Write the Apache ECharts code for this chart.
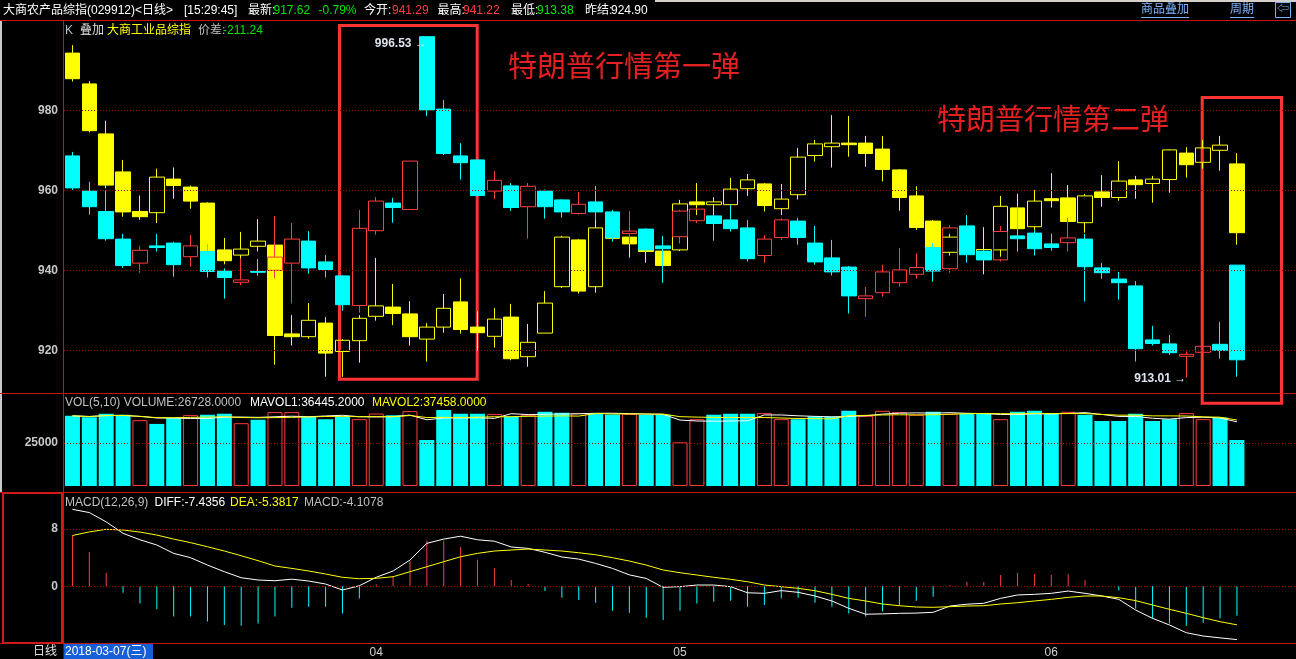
<!DOCTYPE html>
<html>
<head>
<meta charset="utf-8">
<style>
html,body{margin:0;padding:0;background:#000;}
#chart{width:1296px;height:659px;}
</style>
<script src="https://cdn.jsdelivr.net/npm/echarts@6/dist/echarts.min.js"></script>
</head>
<body>
<div id="chart"></div>
<script>
// ---------------- DATA ----------------
const dates = [
 '2018-03-07','2018-03-08','2018-03-09','2018-03-12','2018-03-13','2018-03-14','2018-03-15','2018-03-16','2018-03-19','2018-03-20',
 '2018-03-21','2018-03-22','2018-03-23','2018-03-26','2018-03-27','2018-03-28','2018-03-29','2018-03-30','2018-04-02','2018-04-03',
 '2018-04-04','2018-04-09','2018-04-10','2018-04-11','2018-04-12','2018-04-13','2018-04-16','2018-04-17','2018-04-18','2018-04-19',
 '2018-04-20','2018-04-23','2018-04-24','2018-04-25','2018-04-26','2018-04-27','2018-05-02','2018-05-03','2018-05-04','2018-05-07',
 '2018-05-08','2018-05-09','2018-05-10','2018-05-11','2018-05-14','2018-05-15','2018-05-16','2018-05-17','2018-05-18','2018-05-21',
 '2018-05-22','2018-05-23','2018-05-24','2018-05-25','2018-05-28','2018-05-29','2018-05-30','2018-05-31','2018-06-01','2018-06-04',
 '2018-06-05','2018-06-06','2018-06-07','2018-06-08','2018-06-11','2018-06-12','2018-06-13','2018-06-14','2018-06-15','2018-06-19'
];

// 大商农产品综指 (main) OHLC
const mainOpen = [968.6,959.8,954.7,947.8,941.8,946.1,946.8,943.4,944.7,939.8, 937.0,939.7,940.0,941.8,947.3,942.1,938.6,931.2,949.9,956.8,
 955.2,998.4,980.3,968.6,967.6,959.8,961.1,955.9,959.8,957.6, 954.2,957.1,954.6,949.2,950.3,946.1,948.4,952.4,953.6,952.6,
 950.6,943.7,948.2,952.3,946.8,943.1,940.8,932.9,934.4,936.9, 939.0,945.7,940.4,951.1,944.8,942.6,948.6,949.3,946.6,946.9,
 947.8,940.6,937.8,936.1,922.6,921.6,918.5,919.5,921.5,941.29];
const mainClose = [960.6,955.9,947.9,941.2,945.0,945.7,941.4,946.1,939.7,938.2, 937.6,939.5,943.3,947.8,940.6,940.2,931.4,950.5,957.3,955.7,
 967.3,980.1,969.2,966.9,958.7,962.5,955.7,961.0,955.9,954.6, 956.5,954.6,948.2,949.8,945.1,945.4,954.8,955.3,951.7,950.4,
 942.9,947.8,952.6,948.2,942.1,939.6,933.6,933.6,939.6,940.1, 940.7,939.8,950.6,943.9,942.6,949.7,947.9,945.4,945.7,948.1,
 940.9,939.4,936.9,920.4,921.7,919.4,919.0,921.0,920.0,917.62];
const mainLow = [960.1,953.9,947.4,940.6,939.4,944.7,938.4,940.9,938.2,932.9, 936.3,938.6,938.0,931.7,939.2,938.2,929.9,929.4,948.9,951.9,
 955.0,978.6,968.8,962.7,958.4,957.8,954.8,947.9,952.9,953.2, 953.9,952.6,947.2,946.6,944.6,936.9,946.7,951.8,947.4,949.7,
 942.2,941.9,947.6,946.4,941.4,938.7,929.2,928.4,933.4,935.9, 937.9,937.2,939.4,941.9,942.4,942.2,944.7,943.7,944.9,944.7,
 932.2,937.9,932.7,917.2,921.2,918.9,913.2,916.7,917.9,913.38];
const mainHigh = [969.6,962.1,960.0,949.1,946.1,949.1,947.1,948.8,946.6,940.5, 943.0,942.8,953.6,951.8,949.8,943.8,938.8,955.1,958.3,958.1,
 967.3,998.4,982.6,971.8,967.6,964.8,961.8,961.8,960.2,957.8, 959.6,961.1,955.1,954.8,950.5,948.6,955.1,955.6,953.8,956.4,
 952.6,948.8,953.0,953.1,951.1,947.6,941.1,935.8,941.4,945.6, 944.2,946.8,951.3,953.8,945.2,951.1,956.2,950.1,949.2,953.1,
 949.1,941.8,939.6,937.3,926.1,923.8,919.7,922.6,927.1,941.29];

// 叠加 大商工业品综指 (overlay, in the main panel's scale)
const ovOpen = [994.3,986.6,974.1,964.6,954.7,954.4,962.8,960.8,956.8,945.1, 943.8,946.0,946.3,924.1,923.4,926.8,919.7,922.4,928.5,930.8,
 929.1,922.8,925.8,932.1,925.8,923.5,928.3,918.4,924.3,935.9, 947.6,935.9,953.0,948.3,946.5,944.8,945.1,957.1,956.4,956.4,
 960.4,961.6,955.4,958.9,968.7,970.9,971.8,971.8,970.3,965.1, 958.6,952.3,944.5,950.0,944.3,945.1,955.6,950.9,957.9,958.1,
 951.9,959.6,958.2,962.6,961.7,962.7,969.3,967.0,970.0,966.6];
const ovClose = [987.9,974.9,961.3,954.6,953.4,963.3,961.2,957.3,944.7,942.4, 945.3,947.3,923.7,923.4,927.5,919.3,922.5,928.0,931.1,929.2,
 923.4,925.8,930.5,925.2,924.4,927.8,917.9,922.0,931.8,948.3, 934.8,950.6,948.0,946.6,944.7,941.2,956.6,956.4,957.1,960.3,
 962.6,956.2,957.8,968.3,971.6,971.8,971.4,969.2,965.2,958.2, 950.7,945.5,948.3,946.0,945.2,956.0,950.4,957.3,957.4,952.2,
 958.6,958.2,962.3,961.4,962.8,970.1,966.4,970.6,971.3,949.4];
const ovLow = [987.2,974.5,960.5,953.4,952.6,951.8,957.9,955.4,944.3,941.5, 942.6,944.7,916.4,921.2,922.9,913.4,913.4,916.9,927.4,926.3,
 921.2,917.2,924.4,924.2,919.8,920.7,917.5,915.9,924.3,935.6, 934.2,934.4,947.6,943.2,941.9,937.0,944.8,953.8,953.6,953.6,
 958.6,954.7,953.8,957.7,967.2,965.7,968.4,965.9,962.2,954.9, 950.1,945.0,943.7,944.0,939.0,943.4,949.5,950.1,955.7,951.5,
 949.4,955.9,957.4,957.9,956.9,959.4,963.2,965.4,964.9,946.4];
const ovHigh = [996.3,987.3,977.4,967.6,958.7,965.4,965.7,961.2,957.0,948.1, 949.6,952.8,946.5,928.8,931.8,928.3,922.8,928.8,943.1,936.6,
 932.3,926.8,934.1,938.0,929.8,930.6,931.6,926.6,934.8,948.6, 947.8,952.6,955.0,949.0,947.0,946.0,957.6,961.8,958.3,963.1,
 964.1,961.8,961.6,970.6,972.6,978.8,978.6,973.6,973.6,965.3, 961.0,952.6,949.1,952.0,950.8,958.6,959.1,960.1,964.3,961.3,
 959.1,963.8,967.3,963.6,963.6,970.3,970.8,972.6,973.6,969.3];

// volume
const volume = [40790,40030,41960,41380,38270,36100,39440,41200,41380,41960, 36510,38450,42960,42960,40390,38860,40390,38860,42140,41200,
 43550,26730,44130,41960,41960,41790,40390,41380,43140,42550, 42370,41960,41550,41960,41380,41380,25380,38860,41380,41960,
 41960,42370,38860,38860,40390,40390,43720,40790,43720,42960, 41380,43140,41960,41960,41960,38860,43140,43720,41960,43140,
 41380,37860,37860,41960,37860,38860,42370,38860,39800,26728];

// MACD(12,26,9)
const macdBar = [7.1,4.8,1.86,-0.9,-2.4,-3.2,-4.2,-4.2,-4.9,-5.4, -5.5,-5.2,-4.2,-3.0,-2.85,-2.85,-3.8,-1.7,0.28,1.44,
 3.5,6.4,6.4,5.5,3.7,2.55,0.88,0.32,-0.65,-1.6, -1.9,-2.3,-3.4,-3.7,-4.4,-4.7,-3.4,-2.4,-2.15,-2.0,
 -2.85,-2.6,-1.7,-1.6,-2.3,-2.85,-3.8,-4.2,-3.5,-2.7, -2.0,-1.45,0.18,0.6,0.6,1.58,1.86,1.72,1.58,1.72,
 0.88,0.05,-0.6,-3.1,-4.5,-5.2,-5.5,-5.1,-4.5,-4.11];
const diffLine = [10.75,10.3,9.0,7.4,6.5,5.77,4.6,4.0,2.97,2.04, 1.2,0.88,0.78,1.0,0.74,0.32,-0.52,0.08,1.26,2.14,
 3.67,6.0,6.6,7.0,6.5,6.3,5.5,5.3,4.75,4.1, 3.8,3.2,2.5,1.6,1.1,-0.14,-0.05,0.18,0.18,-0.05,
 -0.9,-0.98,-0.6,-0.84,-1.35,-2.05,-3.07,-3.9,-3.85,-3.77, -3.74,-3.63,-2.75,-2.5,-2.37,-1.68,-1.21,-1.12,-0.98,-0.66,
 -0.98,-1.35,-1.82,-3.31,-4.47,-5.4,-6.48,-6.94,-7.2,-7.44];
const deaLine = [7.1,7.6,7.96,7.86,7.58,7.16,6.6,6.1,5.53,4.93, 4.27,3.58,2.84,2.5,2.14,1.72,1.26,1.06,1.12,1.34,
 2.04,2.74,3.44,4.13,4.6,4.93,5.07,5.2,5.07,4.93, 4.69,4.41,4.0,3.53,2.97,2.28,1.9,1.58,1.26,0.98,
 0.64,0.18,-0.05,-0.28,-0.61,-1.12,-1.68,-2.05,-2.47,-2.71, -2.89,-2.93,-2.84,-2.75,-2.71,-2.47,-2.29,-2.05,-1.82,-1.54,
 -1.35,-1.35,-1.59,-2.0,-2.61,-3.21,-3.77,-4.38,-4.94,-5.38];

// tick labels / gridlines
const priceTicks = [920, 940, 960, 980];
const volTicks = [25000];
const macdTicks = [0, 8];
// extreme price labels shown on the chart
const extremeLabels = [{idx: 21, value: 996.53}, {idx: 66, value: 913.01}];
// annotation texts
const notes = ['特朗普行情第一弹', '特朗普行情第二弹'];

// ---------------- BUILD ----------------
const FONT = '"Liberation Sans","Noto Sans CJK SC",sans-serif';
const RED = '#ff3c3c', CYAN = '#00ffff', YEL = '#ffff00', GRN = '#00e600';
const GRID_LINE = {color: '#a00000', type: [1, 2], width: 1};
const PAD = 3;
const cats = dates.concat(Array(PAD).fill(''));

const mainData = dates.map((d, i) => [mainOpen[i], mainClose[i], mainLow[i], mainHigh[i]]);
const ovData = dates.map((d, i) => [ovOpen[i], ovClose[i], ovLow[i], ovHigh[i]]);
const volData = volume.map((v, i) => {
  const up = mainClose[i] >= mainOpen[i];
  return {value: v, itemStyle: up ? {color: 'rgba(0,0,0,0)', borderColor: RED, borderWidth: 1} : {color: CYAN}};
});
function ma(arr, n) {
  return arr.map((v, i) => {
    const s = arr.slice(Math.max(0, i - n + 1), i + 1);
    return +(s.reduce((a, b) => a + b, 0) / s.length).toFixed(1);
  });
}
const macdData = macdBar.map(v => ({value: v, itemStyle: {color: v >= 0 ? RED : CYAN}}));
const monthStarts = new Set(dates.map((d, i) => (i > 0 && d.slice(5, 7) !== dates[i - 1].slice(5, 7)) ? i : -1).filter(i => i >= 0));
const wk = '日一二三四五六'[new Date(dates[0]).getUTCDay()];

function hline(y, x1, x2, color, w) {
  return {type: 'line', silent: true, shape: {x1: x1, y1: y, x2: x2, y2: y}, style: {stroke: color, lineWidth: w || 1}};
}
function vline(x, y1, y2, color, w) {
  return {type: 'line', silent: true, shape: {x1: x, y1: y1, x2: x, y2: y2}, style: {stroke: color, lineWidth: w || 1}};
}
function txt(t, x, y, color, size, extra) {
  return Object.assign({type: 'text', silent: true, x: x, y: y,
    style: Object.assign({text: t, fill: color, font: (size || 12) + 'px ' + FONT, textVerticalAlign: 'middle', verticalAlign: 'middle'}, extra || {})});
}

const SEP = '#c01818';
const graphics = [
  {type: 'rect', silent: true, shape: {x: 655, y: 0, width: 641, height: 2}, style: {fill: '#d4d0c8'}},
  {type: 'rect', silent: true, shape: {x: 0, y: 20, width: 2, height: 472}, style: {fill: '#c8c8c8'}},
  hline(20.5, 0, 1296, '#d01010'),
  hline(393.5, 0, 1296, SEP),
  hline(492.5, 0, 1296, SEP),
  hline(643.5, 0, 1296, SEP),
  vline(63.5, 20, 643, SEP),
  {type: 'rect', silent: true, shape: {x: 3, y: 493, width: 59, height: 150}, style: {fill: 'none', stroke: '#d01a1a', lineWidth: 2}},
  // header
  txt('大商农产品综指(029912)<日线>', 3, 10.5, '#ffffff'),
  txt('[15:29:45]', 184, 10.5, '#ffffff'),
  txt('最新:', 248, 10.5, '#ffffff'),
  txt('917.62', 273.5, 10.5, GRN),
  txt('-0.79%', 318.5, 10.5, GRN),
  txt('今开:', 364, 10.5, '#ffffff'),
  txt('941.29', 392, 10.5, RED),
  txt('最高:', 437.5, 10.5, '#ffffff'),
  txt('941.22', 463, 10.5, RED),
  txt('最低:', 511, 10.5, '#ffffff'),
  txt('913.38', 537, 10.5, GRN),
  txt('昨结:', 585, 10.5, '#ffffff'),
  txt('924.90', 611, 10.5, '#ffffff'),
  txt('商品叠加', 1141, 10, '#7ab4ff'),
  hline(17.5, 1141, 1189, '#7ab4ff'),
  txt('周期', 1230, 10, '#7ab4ff'),
  hline(17.5, 1230, 1254, '#7ab4ff'),
  {type: 'rect', silent: true, shape: {x: 1275.5, y: 2.5, width: 15, height: 15}, style: {fill: 'none', stroke: '#7ab4ff', lineWidth: 1}},
  txt('⇦', 1283, 10, '#7ab4ff', 12, {textAlign: 'center', align: 'center'}),
  // overlay legend line
  txt('K', 65, 30.5, '#b8c0d0'),
  txt('叠加', 80, 30.5, '#e0e0e0'),
  txt('大商工业品综指', 107, 30.5, YEL),
  txt('价差:', 198, 30.5, '#c0c0c0'),
  txt('-211.24', 223, 30.5, GRN),
  // volume legend
  txt('VOL(5,10) VOLUME:26728.0000', 65, 403, '#c0c0c0'),
  txt('MAVOL1:36445.2000', 250, 403, '#ffffff'),
  txt('MAVOL2:37458.0000', 372, 403, YEL),
  // macd legend
  txt('MACD(12,26,9)', 65, 503, '#c0c0c0'),
  txt('DIFF:-7.4356', 154.5, 503, '#ffffff'),
  txt('DEA:-5.3817', 230, 503, YEL),
  txt('MACD:-4.1078', 304, 503, '#c0c0c0'),
  // bottom
  txt('日线', 33, 651.5, '#e0e0e0'),
  {type: 'rect', silent: true, shape: {x: 63.5, y: 644, width: 89.5, height: 15}, style: {fill: '#1560d8'}},
  txt(dates[0] + '(' + wk + ')', 65, 651.5, '#ffffff'),
  // annotations
  {type: 'rect', silent: true, shape: {x: 339.5, y: 25.5, width: 137.7, height: 353.7}, style: {fill: 'none', stroke: '#ff3333', lineWidth: 3}},
  {type: 'rect', silent: true, shape: {x: 1202.2, y: 97.5, width: 79.3, height: 305.7}, style: {fill: 'none', stroke: '#ff3333', lineWidth: 3}},
  txt(notes[0], 508, 69, '#e42020', 29),
  txt(notes[1], 937, 122, '#e42020', 29)
];

const axisCommon = {type: 'category', data: cats, boundaryGap: true, axisLine: {show: false}, axisTick: {show: false}, axisLabel: {show: false}, splitLine: {show: false}};
const gridLines = ticks => ({silent: true, symbol: ['none', 'none'], label: {show: false}, lineStyle: GRID_LINE, emphasis: {disabled: true}, animation: false, data: ticks.map(v => ({yAxis: v}))});

const option = {
  backgroundColor: '#000000',
  animation: false,
  textStyle: {fontFamily: FONT},
  grid: [
    {left: 64, top: 30.3, width: 1241, height: 400},
    {left: 64, top: 400, width: 1241, height: 86},
    {left: 64, top: 500.4, width: 1241, height: 143.2}
  ],
  xAxis: [
    Object.assign({}, axisCommon, {gridIndex: 0}),
    Object.assign({}, axisCommon, {gridIndex: 1}),
    Object.assign({}, axisCommon, {gridIndex: 2, position: 'bottom',
      axisLabel: {show: true, color: '#d0d0d0', fontSize: 12, fontFamily: FONT, margin: 3,
        interval: (i) => monthStarts.has(i), formatter: (v) => v ? v.slice(5, 7) : ''}})
  ],
  yAxis: [
    {gridIndex: 0, type: 'value', min: 900, max: 1000, interval: 20, axisLine: {show: false}, axisTick: {show: false}, splitLine: {show: false},
      axisLabel: {color: '#c8c8c8', fontSize: 12, fontWeight: 'bold', fontFamily: FONT, margin: 6, formatter: v => priceTicks.includes(v) ? String(v) : ''}},
    {gridIndex: 1, type: 'value', min: 0, max: 50000, interval: 25000, axisLine: {show: false}, axisTick: {show: false}, splitLine: {show: false},
      axisLabel: {color: '#c8c8c8', fontSize: 12, fontWeight: 'bold', fontFamily: FONT, margin: 6, formatter: v => volTicks.includes(v) ? String(v) : ''}},
    {gridIndex: 2, type: 'value', min: -8, max: 12, interval: 4, axisLine: {show: false}, axisTick: {show: false}, splitLine: {show: false},
      axisLabel: {color: '#c8c8c8', fontSize: 12, fontWeight: 'bold', fontFamily: FONT, margin: 6, formatter: v => macdTicks.includes(v) ? String(v) : ''}}
  ],
  series: [
    {name: 'overlay', type: 'candlestick', xAxisIndex: 0, yAxisIndex: 0, data: ovData, barWidth: 15,
      itemStyle: {color: 'rgba(0,0,0,0)', color0: YEL, borderColor: YEL, borderColor0: YEL, borderWidth: 1}},
    {name: 'main', type: 'candlestick', xAxisIndex: 0, yAxisIndex: 0, data: mainData, barWidth: 15,
      itemStyle: {color: 'rgba(0,0,0,0)', color0: CYAN, borderColor: RED, borderColor0: CYAN, borderWidth: 1},
      markLine: gridLines(priceTicks),
      markPoint: {symbol: 'circle', symbolSize: 0, silent: true, animation: false,
        label: {show: true, position: 'left', distance: 0, color: '#dde4f0', fontSize: 12, fontWeight: 'bold', fontFamily: FONT,
          formatter: p => p.value.toFixed(2) + ' →'},
        data: extremeLabels.map(e => ({coord: [e.idx, e.value], value: e.value}))}},
    {name: 'vol', type: 'bar', xAxisIndex: 1, yAxisIndex: 1, data: volData, barWidth: 15, markLine: gridLines(volTicks)},
    {name: 'mavol1', type: 'line', xAxisIndex: 1, yAxisIndex: 1, data: ma(volume, 5), symbol: 'none', lineStyle: {color: '#ffffff', width: 1}},
    {name: 'mavol2', type: 'line', xAxisIndex: 1, yAxisIndex: 1, data: ma(volume, 10), symbol: 'none', lineStyle: {color: YEL, width: 1}},
    {name: 'macd', type: 'bar', xAxisIndex: 2, yAxisIndex: 2, data: macdData, barWidth: 1, markLine: gridLines(macdTicks)},
    {name: 'diff', type: 'line', xAxisIndex: 2, yAxisIndex: 2, data: diffLine, symbol: 'none', lineStyle: {color: '#ffffff', width: 1}},
    {name: 'dea', type: 'line', xAxisIndex: 2, yAxisIndex: 2, data: deaLine, symbol: 'none', lineStyle: {color: YEL, width: 1}}
  ],
  graphic: graphics
};

const chart = echarts.init(document.getElementById('chart'), null, {renderer: 'canvas'});
chart.setOption(option);
</script>
</body>
</html>
